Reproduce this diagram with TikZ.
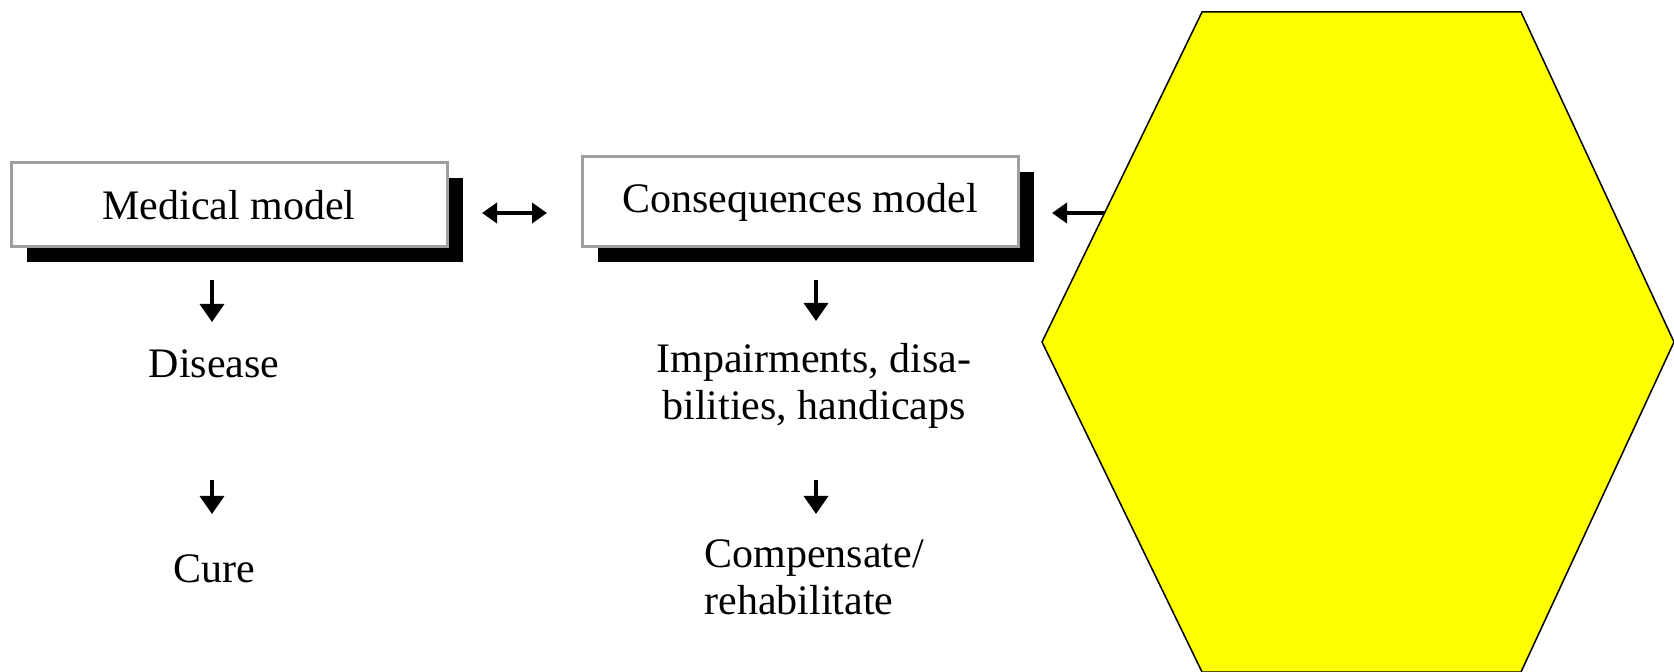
\documentclass[tikz,border=0pt]{standalone}
\usepackage{fontspec}
\setmainfont{Liberation Serif}
\usetikzlibrary{arrows.meta,shadows}
\definecolor{hexyellow}{RGB}{255,255,0}
\begin{document}
\begin{tikzpicture}[x=0.5pt,y=-0.5pt,
  box/.style={draw=gray!75, line width=1.5pt, fill=white, minimum width=218pt, minimum height=42pt, inner sep=0pt,
    font=\fontsize{21}{23.5}\selectfont,
    drop shadow={shadow xshift=8pt, shadow yshift=-7.5pt, opacity=1, fill=black}},
  lbl/.style={inner sep=0pt, font=\fontsize{21}{23.5}\selectfont},
  darr/.style={line width=1.8pt, -{Triangle[length=9pt,width=12pt]}},
  harr/.style={line width=2pt, {Triangle[length=7.5pt,width=10pt]}-{Triangle[length=7.5pt,width=10pt]}},
  hexa/.style={draw=black, line width=0.75pt, fill=hexyellow}
]
\useasboundingbox (0,0) rectangle (1674,672);
\fill[white] (0,0) rectangle (1674,672);

\node[box] (med) at (229,205) {Medical model};
\node[box, minimum height=45pt] (cons) at (800,202) {Consequences model};

\node[lbl] (dis) at (214,364) {Disease};
\node[lbl] (cure) at (214,569) {Cure};
\node[lbl, align=center] (imp) at (814,386) {Impairments, disa-\\bilities, handicaps};
\node[lbl, align=left, anchor=west] (comp) at (704,577) {Compensate/\\rehabilitate};

\coordinate (m1) at (212,280); \coordinate (m2) at (212,322);
\coordinate (m3) at (212,480); \coordinate (m4) at (212,514);
\coordinate (c1) at (816,280); \coordinate (c2) at (816,321);
\coordinate (c3) at (816,480); \coordinate (c4) at (816,514);
\coordinate (h1) at (482,213); \coordinate (h2) at (547,213);
\coordinate (h3) at (1052,213); \coordinate (h4) at (1130,213);

\draw[darr] (m1) -- (m2);
\draw[darr] (m3) -- (m4);
\draw[darr] (c1) -- (c2);
\draw[darr] (c3) -- (c4);
\draw[harr] (h1) -- (h2);
\draw[harr] (h3) -- (h4);

\draw[hexa] (1202,12) -- (1521,12) -- (1674,342) -- (1521,672) -- (1202,672) -- (1042,342) -- cycle;
\end{tikzpicture}
\end{document}
